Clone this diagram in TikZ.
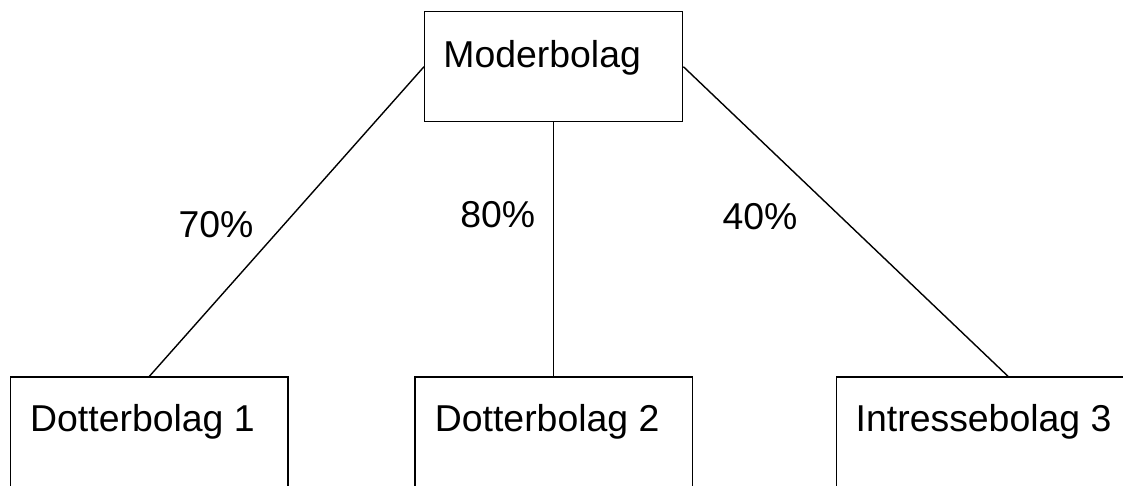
\documentclass[tikz,border=0pt]{standalone}
\usepackage{fontspec}
\setmainfont{Liberation Sans}
\usetikzlibrary{positioning}

\begin{document}
\begin{tikzpicture}[x=1pt, y=-1pt,
bolag/.style = {shape = rectangle, draw = black, line width = 1.4pt, inner sep = 0pt},
namn/.style = {anchor = base west, inner sep = 0pt, font = \fontsize{37.4}{45}\selectfont},
andel/.style = {anchor = base west, inner sep = 0pt, font = \fontsize{37.4}{45}\selectfont},
]
\useasboundingbox (0, 0) rectangle (1123, 485);
\clip (0, 0) rectangle (1123, 485);

\node[bolag, minimum width = 258pt, minimum height = 110pt] (M) at (553.7, 66.7) {};
\node[bolag, minimum width = 277.3pt, minimum height = 123pt] (D1) at (149.4, 438.5) {};
\node[bolag, minimum width = 277.3pt, minimum height = 123pt] (D2) at (553.7, 438.5) {};
\node[bolag, minimum width = 342.6pt, minimum height = 123pt] (I3) at (1008, 438.5) {};

\node[namn] (Mtext) at (443.2, 67.7) {Moderbolag};
\node[namn] (D1text) at (30, 431.7) {Dotterbolag 1};
\node[namn] (D2text) at (434.7, 431.7) {Dotterbolag 2};
\node[namn] (I3text) at (855.5, 431.7) {Intressebolag 3};

\path[line width = 1.4pt](M.west) edge (D1.north);
\path[line width = 1.4pt](M.south) edge (D2.north);
\path[line width = 1.4pt](M.east) edge (I3.north);

\node[andel] (A1) at (178.3, 237.7) {70\%};
\node[andel] (A2) at (460.2, 227.7) {80\%};
\node[andel] (A3) at (722.3, 229) {40\%};
\end{tikzpicture}
\end{document}
